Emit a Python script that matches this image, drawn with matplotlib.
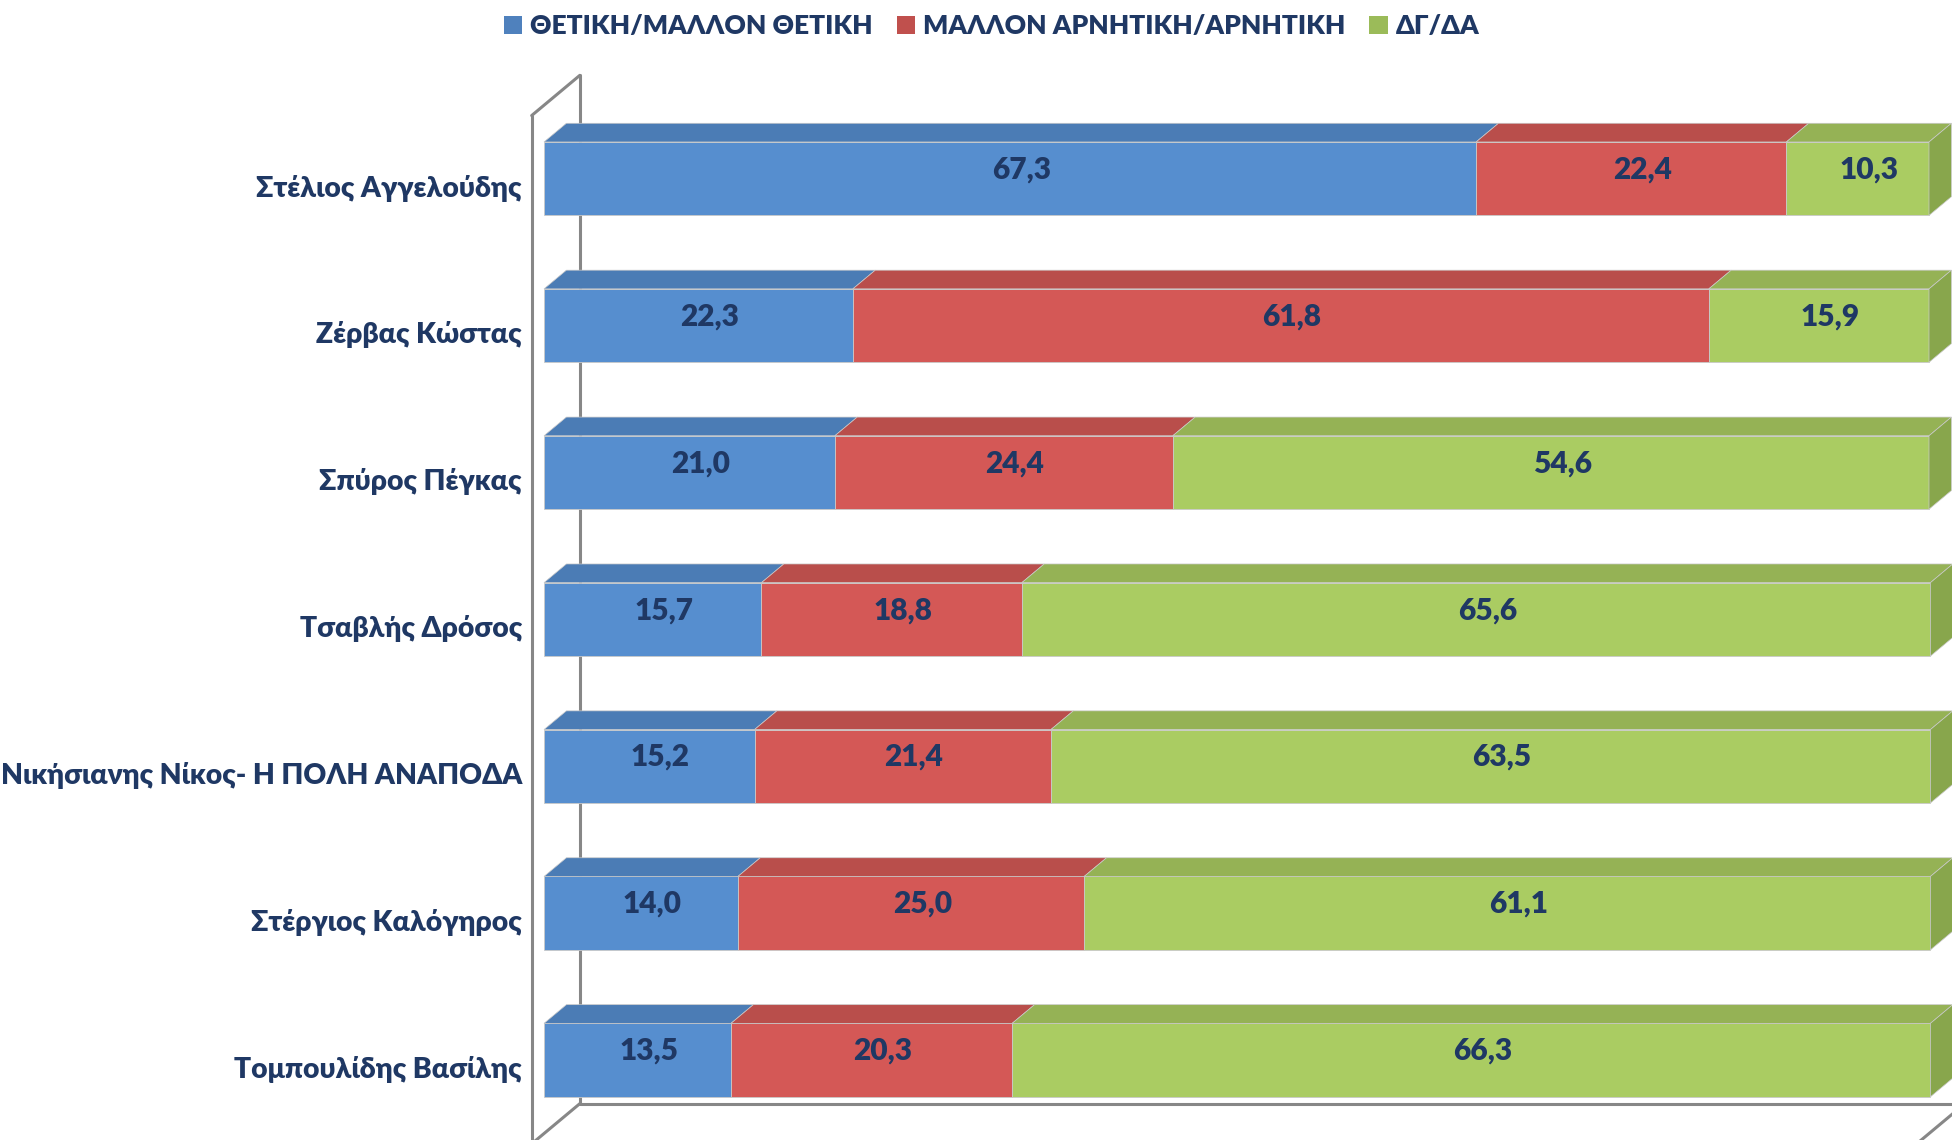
import matplotlib
matplotlib.use('Agg')
import matplotlib.pyplot as plt
from matplotlib.patches import Polygon, Patch

plt.rcParams['font.family'] = ['Lato', 'Noto Sans', 'DejaVu Sans']

categories = ['Στέλιος Αγγελούδης', 'Ζέρβας Κώστας', 'Σπύρος Πέγκας', 'Τσαβλής Δρόσος',
              'Νικήσιανης Νίκος- Η ΠΟΛΗ ΑΝΑΠΟΔΑ', 'Στέργιος Καλόγηρος', 'Τομπουλίδης Βασίλης']
positive = [67.3, 22.3, 21.0, 15.7, 15.2, 14.0, 13.5]
negative = [22.4, 61.8, 24.4, 18.8, 21.4, 25.0, 20.3]
dkna = [10.3, 15.9, 54.6, 65.6, 63.5, 61.1, 66.3]
series_names = ['ΘΕΤΙΚΗ/ΜΑΛΛΟΝ ΘΕΤΙΚΗ', 'ΜΑΛΛΟΝ ΑΡΝΗΤΙΚΗ/ΑΡΝΗΤΙΚΗ', 'ΔΓ/ΔΑ']

front_colors = ['#568ECF', '#D45856', '#AACC62']
top_colors = ['#4B7CB5', '#B94E4B', '#95B255']
side_colors = ['#4272A8', '#A84644', '#88A64C']
legend_colors = ['#4F81BD', '#C0504D', '#9BBB59']
text_color = '#1F3864'
wall_color = '#878787'
weight = 'heavy'

W, H = 1952, 1140
fig = plt.figure(figsize=(W / 100, H / 100), dpi=100)
ax = fig.add_axes([0, 0, 1, 1])

# layout anchors (pixels)
x0_px, x100_px = 544, 1929
ppu = (x100_px - x0_px) / 100.0
ax.set_xlim(-x0_px / ppu, (W - x0_px) / ppu)
y0_px, step_px = 178.7, 146.9
ax.set_ylim((H - y0_px) / step_px, -y0_px / step_px)
ax.axis('off')

half = 0.25
DX = 22.4 / ppu
DY = -18.7 / step_px
d_front, d_back = -0.55, 1.6
n = len(categories)
y_top, y_floor = -0.5, n - 0.5
xmax = 100.0


def P(x, y, d):
    return (x + d * DX, y + d * DY)


# walls and floor
lw_wall = 2.2
segs = [
    (P(0, y_top, d_back), P(0, y_floor, d_back)),
    (P(0, y_top, d_front), P(0, y_floor, d_front)),
    (P(0, y_top, d_front), P(0, y_top, d_back)),
    (P(0, y_floor, d_back), P(xmax, y_floor, d_back)),
    (P(0, y_floor, d_back), P(0, y_floor, d_front)),
    (P(xmax, y_floor, d_back), P(xmax, y_floor, d_front)),
    (P(0, y_floor, d_front), P(xmax, y_floor, d_front)),
]
for a, b in segs:
    ax.plot([a[0], b[0]], [a[1], b[1]], color=wall_color, lw=lw_wall,
            solid_capstyle='round', zorder=1)

series = [positive, negative, dkna]
ys = list(range(n))
lefts = [0.0] * n
for s, vals in enumerate(series):
    ax.barh(ys, vals, left=lefts, height=2 * half, color=front_colors[s],
            edgecolor='#C9C9C9', linewidth=0.6, zorder=3)
    for i, v in enumerate(vals):
        l = lefts[i]
        r = l + v
        yt = i - half
        top = Polygon([P(l, yt, 0), P(r, yt, 0), P(r, yt, 1), P(l, yt, 1)],
                      closed=True, facecolor=top_colors[s], edgecolor='#C9C9C9',
                      linewidth=0.5, zorder=3)
        ax.add_patch(top)
        if s == len(series) - 1:
            side = Polygon([P(r, i - half, 0), P(r, i + half, 0),
                            P(r, i + half, 1), P(r, i - half, 1)],
                           closed=True, facecolor=side_colors[s], edgecolor='#C9C9C9',
                           linewidth=0.5, zorder=3)
            ax.add_patch(side)
        cx, cy = P(l + v / 2.0, i, 0.5)
        ax.text(cx, cy, f'{v:.1f}'.replace('.', ','), ha='center', va='center',
                fontsize=21.5, fontweight=weight, color=text_color, zorder=5)
    lefts = [lefts[i] + vals[i] for i in range(n)]

# category labels at front-wall plane
for i, c in enumerate(categories):
    xw, yw = P(0, i, d_front)
    ax.annotate(c, xy=(xw, yw), xytext=(-7, 2.5), textcoords='offset points',
                ha='right', va='center_baseline', fontsize=20.3, fontweight=weight,
                color=text_color)

handles = [Patch(facecolor=legend_colors[k], edgecolor='none') for k in range(3)]
fig.legend(handles, series_names, loc='center', bbox_to_anchor=(0.508, 0.977),
           ncol=3, frameon=False, prop={'size': 19, 'weight': weight},
           labelcolor=text_color, handlelength=0.7, handleheight=0.7,
           handletextpad=0.3, columnspacing=0.9)

fig.savefig('out.png', dpi=100)
